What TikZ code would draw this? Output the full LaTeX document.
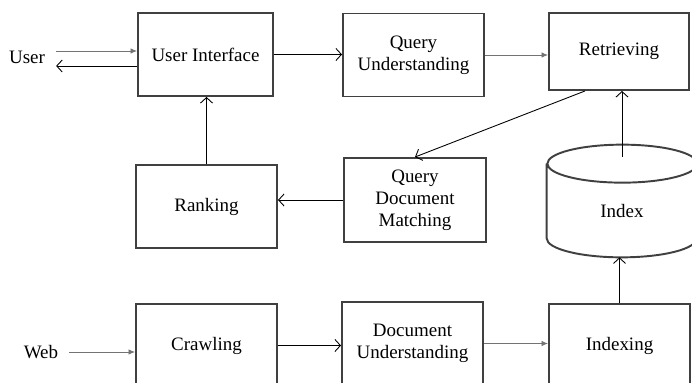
\documentclass[tikz,border=0pt]{standalone}
\usepackage{fontspec}
\setmainfont{Liberation Serif}
\usepackage{tikz}
\usetikzlibrary{shapes,positioning,arrows.meta}

\begin{document}
\begin{tikzpicture}[
  block/.style={draw=black!75,line width=1.1pt,minimum height=1.66cm,minimum width=2.82cm,align=center,font=\fontsize{10.8}{12.5}\selectfont},
  lbl/.style={font=\fontsize{10.8}{12.5}\selectfont},
  flow/.style={line width=0.5pt,-{Straight Barb[length=1.1mm,width=2.4mm]}},
  feed/.style={line width=0.5pt,draw=black!55,-{Latex[length=1.3mm,width=1.1mm]}}
]
  \useasboundingbox (0,0) rectangle (13.84,-7.66);

  \node[block,minimum width=2.7cm,xshift=4.11cm,yshift=-1.09cm](ui){User Interface};
  \node[block,xshift=8.27cm,yshift=-1.10cm](qu){Query\\Understanding};
  \node[block,minimum width=2.8cm,minimum height=1.54cm,xshift=12.38cm,yshift=-1.03cm](ret){Retrieving};

  \node[block,xshift=4.13cm,yshift=-4.13cm](rank){Ranking};
  \node[block,minimum width=2.84cm,minimum height=1.68cm,xshift=8.30cm,yshift=-4.00cm](qdm){Query\\Document\\Matching};

  \node[block,xshift=4.13cm,yshift=-6.91cm](crawl){Crawling};
  \node[block,xshift=8.25cm,yshift=-6.87cm](docu){Document\\Understanding};
  \node[block,xshift=12.39cm,yshift=-6.91cm](idx){Indexing};

  % index store
  \node[minimum width=3cm,minimum height=2.24cm,inner sep=0pt,xshift=12.44cm,yshift=-4.02cm](index){};
  \draw[line width=1.1pt,draw=black!75] ([yshift=-0.38cm]index.north west) -- ([yshift=0.38cm]index.south west)
    arc[start angle=180,end angle=360,x radius=1.5cm,y radius=0.38cm] -- ([yshift=-0.38cm]index.north east)
    arc[start angle=0,end angle=360,x radius=1.5cm,y radius=0.38cm];
  \node[lbl,xshift=12.44cm,yshift=-4.22cm](idxlbl){Index};

  \node[lbl,xshift=0.54cm,yshift=-1.14cm](user){User};
  \node[lbl,xshift=0.82cm,yshift=-7.04cm](web){Web};

  \coordinate (uiin) at ([yshift=0.07cm]ui.west);
  \coordinate (uiout) at ([yshift=-0.23cm]ui.west);
  \coordinate (idxtop) at ([yshift=-0.24cm]index.north);

  \draw[feed] ([xshift=0.1cm]user.east |- uiin) -- (uiin);
  \draw[flow] (uiout) -- ([xshift=0.1cm]user.east |- uiout);
  \draw[flow] (ui.east) -- (ui.east -| qu.west);
  \draw[feed] (qu.east) -- (qu.east -| ret.west);
  \draw[flow] ([xshift=-0.68cm]ret.south) -- (qdm.north);
  \draw[flow] (qdm.west) -- (qdm.west -| rank.east);
  \draw[flow] (rank.north) -- (rank.north |- ui.south);

  \draw[feed] ([xshift=0.1cm]web.east) -- (web.east -| crawl.west);
  \draw[flow] (crawl.east) -- (crawl.east -| docu.west);
  \draw[feed] (docu.east) -- (docu.east -| idx.west);
  \draw[flow] (idx.north) -- (idx.north |- index.south);
  \draw[flow] (idxtop) -- (idxtop |- ret.south);
\end{tikzpicture}
\end{document}
